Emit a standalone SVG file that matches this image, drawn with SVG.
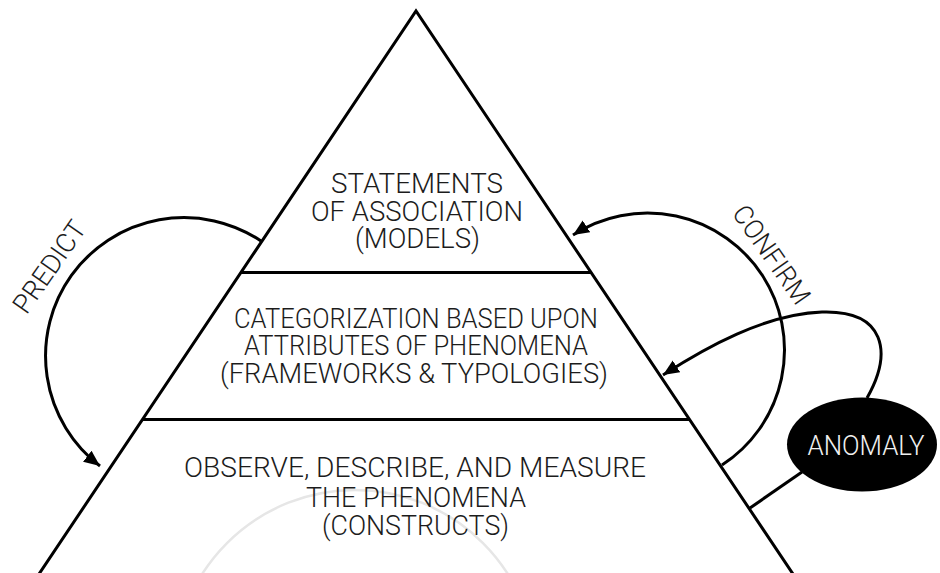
<svg xmlns="http://www.w3.org/2000/svg" width="940" height="573" viewBox="0 0 940 573">
  <defs>
    <marker id="arrow" markerUnits="userSpaceOnUse" markerWidth="18" markerHeight="16" refX="16" refY="7" orient="auto">
      <path d="M0,0 L16,7 L0,14 Z" fill="#000"/>
    </marker>
    <style>
      .ln { fill: none; stroke: #000; stroke-width: 3; }
      .lbl { font-family: Roboto, "Liberation Sans", sans-serif; font-weight: 300; font-size: 27px; fill: #1c1c1c; text-anchor: middle; }
      .wm { fill: none; stroke: #e6e6e6; stroke-width: 2.5; }
    </style>
  </defs>
  <rect width="940" height="573" fill="#fff"/>

  <!-- faint watermark arc -->
  <circle class="wm" cx="355" cy="671" r="181"/>

  <g id="pyramid">
    <path class="ln" d="M35,580 L416,11 L797,580"/>
  </g>

  <g id="node-models">
    <line class="ln" x1="241" y1="272.5" x2="591" y2="272.5"/>
    <text class="lbl" x="417" y="193" textLength="172" lengthAdjust="spacingAndGlyphs">STATEMENTS</text>
    <text class="lbl" x="417" y="221" textLength="212" lengthAdjust="spacingAndGlyphs">OF ASSOCIATION</text>
    <text class="lbl" x="417.5" y="248" textLength="125" lengthAdjust="spacingAndGlyphs">(MODELS)</text>
  </g>

  <g id="node-frameworks">
    <line class="ln" x1="142" y1="419.5" x2="690" y2="419.5"/>
    <text class="lbl" x="416" y="327.5" textLength="364" lengthAdjust="spacingAndGlyphs">CATEGORIZATION BASED UPON</text>
    <text class="lbl" x="416" y="355" textLength="344" lengthAdjust="spacingAndGlyphs">ATTRIBUTES OF PHENOMENA</text>
    <text class="lbl" x="414" y="382.5" textLength="388" lengthAdjust="spacingAndGlyphs">(FRAMEWORKS &amp; TYPOLOGIES)</text>
  </g>

  <g id="node-constructs">
    <text class="lbl" x="415" y="477" textLength="462" lengthAdjust="spacingAndGlyphs">OBSERVE, DESCRIBE, AND MEASURE</text>
    <text class="lbl" x="416" y="506.5" textLength="220" lengthAdjust="spacingAndGlyphs">THE PHENOMENA</text>
    <text class="lbl" x="415.5" y="535" textLength="187" lengthAdjust="spacingAndGlyphs">(CONSTRUCTS)</text>
  </g>

  <g id="node-anomaly">
    <ellipse cx="862" cy="444.5" rx="75" ry="47" fill="#000"/>
    <text x="866" y="455" textLength="117" lengthAdjust="spacingAndGlyphs" style="font-family: Roboto, 'Liberation Sans', sans-serif; font-weight: 300; font-size: 27px; fill: #f0f0f0; text-anchor: middle;">ANOMALY</text>
  </g>

  <g id="connectors">
    <path id="predict" class="ln" d="M261,241 A138.4,138.4 0 0 0 100,466" marker-end="url(#arrow)"/>
    <path id="confirm" class="ln" d="M722,465 A137,137 0 0 0 573,235" marker-end="url(#arrow)"/>
    <path id="anomaly-to-frameworks" class="ln" d="M867,398 C893,352 885,310 822,312 C765,314 705,348 663,375" marker-end="url(#arrow)"/>
    <path id="anomaly-to-constructs" class="ln" d="M802,472 L750,508"/>
  </g>

  <g id="edge-labels">
    <text class="lbl" transform="translate(57,272) rotate(-55)" x="0" y="0" textLength="106" lengthAdjust="spacingAndGlyphs">PREDICT</text>
    <text class="lbl" transform="translate(764,260) rotate(55)" x="0" y="0" textLength="114" lengthAdjust="spacingAndGlyphs">CONFIRM</text>
  </g>
</svg>
